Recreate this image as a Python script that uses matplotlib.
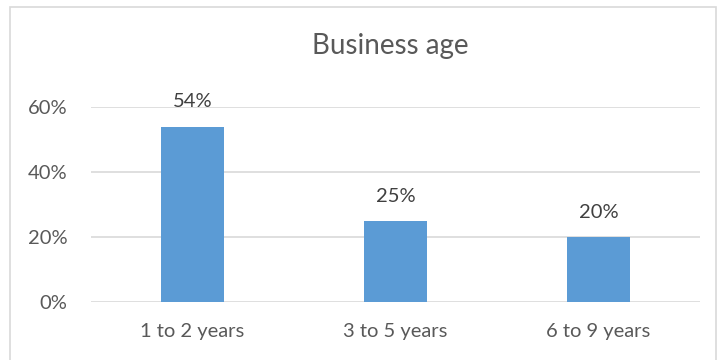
import matplotlib
matplotlib.use("Agg")
import matplotlib.pyplot as plt
import matplotlib.patches as mpatches
from matplotlib.ticker import PercentFormatter

# --- data ---
categories = ["1 to 2 years", "3 to 5 years", "6 to 9 years"]
shares = [0.54, 0.25, 0.20]
yticks = [0.0, 0.2, 0.4, 0.6]

BAR_COLOR = "#5b9bd5"
TEXT_COLOR = "#595959"
GRID_COLOR = "#d9d9d9"

plt.rcParams["font.family"] = ["Lato", "DejaVu Sans"]

fig = plt.figure(figsize=(7.18, 3.6), dpi=100)
ax = fig.add_axes([91 / 718, 1 - 302 / 360, 609 / 718, 195 / 360])

# outer chart border
fig.patches.append(mpatches.Rectangle(
    (10 / 718, -0.05), 706 / 718, 1 - 7 / 360 + 0.05,
    transform=fig.transFigure, fill=False, edgecolor="#d9d9d9", linewidth=1.2))

x = range(len(categories))
bars = ax.bar(x, shares, width=0.31, color=BAR_COLOR, zorder=3)

for b, v in zip(bars, shares):
    ax.text(b.get_x() + b.get_width() / 2, v + 0.05, f"{v:.0%}",
            ha="center", va="bottom", fontsize=14.5, color="#404040", clip_on=False)

ax.set_xlim(-0.5, len(categories) - 0.5)
ax.set_ylim(0, 0.6)
ax.set_yticks(yticks)
ax.yaxis.set_major_formatter(PercentFormatter(1.0, decimals=0))
ax.set_xticks(list(x))
ax.set_xticklabels(categories)
ax.tick_params(axis="both", length=0, labelsize=14.5, labelcolor=TEXT_COLOR)
ax.tick_params(axis="y", pad=17)
ax.tick_params(axis="x", pad=15)
ax.grid(axis="y", color=GRID_COLOR, linewidth=1.2, zorder=0)
for s in ax.spines.values():
    s.set_visible(False)

fig.text(390 / 718, 1 - 46 / 360, "Business age", ha="center", va="center",
         fontsize=20, color=TEXT_COLOR)

fig.savefig("out.png", dpi=100)
